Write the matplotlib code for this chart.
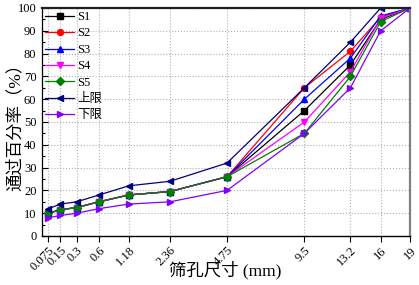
import numpy as np
import matplotlib
matplotlib.use('Agg')
import matplotlib.pyplot as plt
from matplotlib.ticker import MultipleLocator

# 筛孔尺寸 (mm)
sieve = [0.075, 0.15, 0.3, 0.6, 1.18, 2.36, 4.75, 9.5, 13.2, 16, 19]
sieve_labels = ['0.075', '0.15', '0.3', '0.6', '1.18', '2.36', '4.75', '9.5', '13.2', '16', '19']

# 通过百分率 (%)
s1 = [10, 11.5, 12.5, 15, 18, 19.5, 26, 55, 75, 95, 100]
s2 = [10, 11.5, 12.5, 15, 18, 19.5, 26, 65, 81, 96, 100]
s3 = [10, 11.5, 12.5, 15, 18, 19.5, 26, 60, 78, 96.5, 100]
s4 = [10, 11.5, 12.5, 15, 18, 19.5, 26, 50, 72, 95.5, 100]
s5 = [10, 11.5, 12.5, 15, 18, 19.5, 26, 45, 70, 94, 100]
upper = [12, 14, 15, 18, 22, 24, 32, 65, 85, 100, 100]
lower = [8, 9, 10, 12, 14, 15, 20, 45, 65, 90, 100]

series = [
    ('S1', s1, 'black', 's'),
    ('S2', s2, 'red', 'o'),
    ('S3', s3, 'blue', '^'),
    ('S4', s4, '#ff00ff', 'v'),
    ('S5', s5, '#008000', 'D'),
    ('上限', upper, '#000080', '<'),
    ('下限', lower, '#8000ff', '>'),
]

plt.rcParams['font.family'] = ['Liberation Serif', 'Noto Sans CJK SC']
plt.rcParams['axes.unicode_minus'] = False

fig = plt.figure(figsize=(4.19, 2.85), dpi=100)
ax = fig.add_axes([42 / 419, 1 - 236 / 285, 368 / 419, 228 / 285])

# 0.45次方级配坐标
ax.set_xscale('function', functions=(lambda x: np.power(np.clip(x, 0, None), 0.45),
                                      lambda u: np.power(np.clip(u, 0, None), 1 / 0.45)))

for name, vals, c, m in series:
    ax.plot(sieve, vals, color=c, marker=m, markersize=4.3 if m != 'D' else 3.6,
            linewidth=0.9, label=name)

ax.set_xlim(0.25 ** (1 / 0.45), 19)
ax.set_ylim(0, 100)
ax.set_xticks(sieve)
ax.set_xticklabels(sieve_labels, rotation=45, ha='right', va='top', rotation_mode='anchor')
ax.xaxis.set_minor_locator(plt.NullLocator())
ax.yaxis.set_major_locator(MultipleLocator(10))
ax.yaxis.set_minor_locator(MultipleLocator(5))
ax.tick_params(axis='x', which='major', direction='out', length=4, width=0.8,
               labelsize=9, pad=2)
ax.tick_params(axis='y', which='major', direction='in', length=4, width=0.8,
               labelsize=9, pad=4)
ax.tick_params(axis='y', which='minor', direction='in', length=2, width=0.8)

ax.grid(True, which='major', linestyle=':', color='#b0b0b0', linewidth=0.8)
ax.set_axisbelow(True)

ax.spines['top'].set_linewidth(1.6)
ax.spines['top'].set_color('#202020')
ax.spines['right'].set_linewidth(1.6)
ax.spines['right'].set_color('#808080')
ax.spines['left'].set_linewidth(0.9)
ax.spines['bottom'].set_linewidth(1.0)

ax.set_ylabel('通过百分率（%）', fontsize=12.5)
ax.yaxis.set_label_coords(-0.05, 0.495)
ax.set_xlabel('筛孔尺寸 (mm)', fontsize=12.5)
ax.xaxis.set_label_coords(0.497, -0.108)

ax.legend(loc='upper left', frameon=False, fontsize=9, borderaxespad=0.05,
          borderpad=0.2, handlelength=2.3, handletextpad=0.25, labelspacing=0.35)

fig.savefig('out.png', dpi=100)
